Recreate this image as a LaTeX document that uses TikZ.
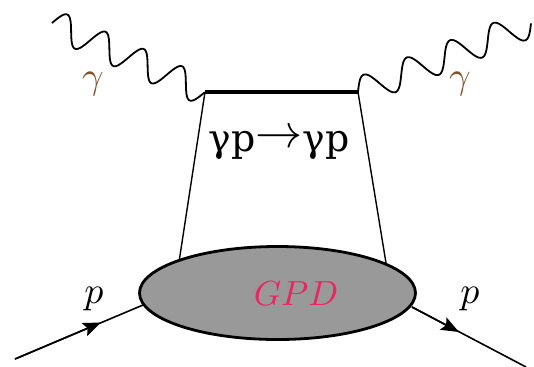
\documentclass[tikz,border=0pt]{standalone}
\usepackage{graphicx}
\usepackage{fontspec}
\newfontfamily\trfont{DejaVu Serif}
\usetikzlibrary{arrows.meta,shapes.geometric}
\definecolor{gpdpink}{RGB}{232,38,100}
\definecolor{gpdgray}{RGB}{153,153,153}
\definecolor{gamcol}{RGB}{125,82,45}
\newcommand{\biglbl}[1]{\scalebox{3.8}{$#1$}}
\newcommand{\gpdlab}[1]{\scalebox{3.5}{$#1$}}
\newcommand{\procarrow}{\raisebox{4bp}{\scalebox{1.9}{$\rightarrow$}}}
\begin{document}
\begin{tikzpicture}[x=1bp,y=-1bp,
  photon/.style={line width=1.8bp, line join=round},
  side/.style={line width=1.4bp},
  topline/.style={line width=3.2bp},
  pline/.style={line width=1.6bp},
  parrow/.style={pline,-{Stealth[length=18bp,width=14bp,inset=3.5bp]}},
  blob/.style={ellipse, draw, line width=2.8bp, fill=gpdgray, minimum width=276bp, minimum height=93bp, inner sep=0pt},
  lbl/.style={inner sep=0pt},
  gpdlbl/.style={text=gpdpink, inner sep=0pt},
  proc/.style={inner sep=0pt},
]
\useasboundingbox (0,0) rectangle (534,366);
\coordinate (tl) at (205,92);
\coordinate (tr) at (358,92);
\coordinate (bl) at (179,262);
\coordinate (br) at (386,263);
\coordinate (pin) at (15,359);
\coordinate (pla) at (101,322.5);
\coordinate (pl) at (143,305);
\coordinate (pr) at (412,307);
\coordinate (pra) at (459,332);
\coordinate (pout) at (526,367);
\draw[side] (tl) -- (bl);
\draw[side] (tr) -- (br);
\draw[pline] (pin) -- (pl);
\draw[parrow] (pin) -- (pla);
\draw[pline] (pr) -- (pout);
\draw[parrow] (pr) -- (pra);
\node[blob] (gpd) at (277.5,293) {};
\node[gpdlbl] (gpdtext) at (296,294) {\gpdlab{GPD}};
\node[proc] (reac) at (279,145) {\trfont\fontsize{38}{44}\selectfont γp\procarrow γp};
\draw[photon] plot[domain=0:1, samples=200, smooth] ({52+153*\x+14*0.411*sin(1440*\x)}, {23+69*\x-14*0.912*sin(1440*\x)});
\draw[photon] plot[domain=0:1, samples=200, smooth] ({358+173*\x-14*0.371*sin(1440*\x)}, {92-69*\x-14*0.929*sin(1440*\x)});
\draw[topline] (tl) -- (tr);
\node[lbl, text=gamcol] (gl) at (93,84) {\biglbl{\gamma}};
\node[lbl, text=gamcol] (gr) at (460,84) {\biglbl{\gamma}};
\node[lbl] (pleft) at (94,299) {\biglbl{p}};
\node[lbl] (pright) at (470,299) {\biglbl{p}};
\end{tikzpicture}
\end{document}
